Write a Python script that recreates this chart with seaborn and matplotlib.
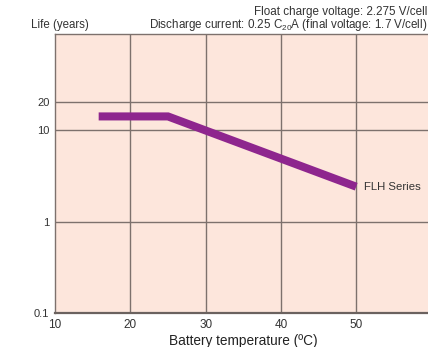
import matplotlib
matplotlib.use("Agg")
import matplotlib.pyplot as plt
import seaborn as sns
import pandas as pd

# Data
temps = [15.8, 25, 50]
life_years = [14, 14, 2.4]
series_name = "FLH Series"
x_ticks = [10, 20, 30, 40, 50]
y_ticks = [0.1, 1, 10, 20]
y_tick_labels = ["0.1", "1", "10", "20"]

sns.set_theme(style="white")
plt.rcParams["font.family"] = ["Liberation Sans", "DejaVu Sans"]

df = pd.DataFrame({"temp": temps, "life": life_years})

fig = plt.figure(figsize=(4.28, 3.47), dpi=100)
ax = fig.add_axes([55 / 428, 1 - 313.3 / 347, 376.5 / 428, (313.3 - 34.3) / 347])
ax.set_facecolor("#fde6dc")

sns.lineplot(data=df, x="temp", y="life", ax=ax, color="#8e268e", linewidth=5.8,
             solid_capstyle="butt", solid_joinstyle="miter")

ax.set_yscale("log")
ax.set_xlim(10, 60)
ax.set_ylim(0.1, 110)
ax.set_xticks(x_ticks)
ax.set_xticklabels([str(t) for t in x_ticks], fontsize=8.5, color="#333333")
ax.set_yticks(y_ticks)
ax.set_yticklabels(y_tick_labels, fontsize=8, color="#333333")
ax.yaxis.set_minor_locator(matplotlib.ticker.NullLocator())
ax.tick_params(axis="both", length=0, pad=4)
ax.tick_params(axis="x", pad=4)
for lbl in ax.get_xticklabels():
    lbl.set_x(lbl.get_position()[0])

grid_color = "#7d716d"
for xv in x_ticks[1:]:
    ax.axvline(xv, color=grid_color, linewidth=1.0, zorder=0.5)
for yv in [1, 10, 20]:
    ax.axhline(yv, color=grid_color, linewidth=1.0, zorder=0.5)

for s in ["left", "top"]:
    ax.spines[s].set_color(grid_color)
    ax.spines[s].set_linewidth(1.0)
ax.spines["bottom"].set_color("#6b625f")
ax.spines["bottom"].set_linewidth(1.6)
ax.spines["right"].set_visible(False)

ax.set_xlabel("Battery temperature (ºC)", fontsize=9.8, color="#222222", labelpad=2)
ax.set_ylabel("")

ax.text(51, 2.4, series_name, fontsize=8.2, color="#333333", va="center", ha="left")

fig.text(89 / 428, 1 - 25 / 347, "Life (years)", fontsize=8.3, color="#333333",
         ha="right", va="center")
fig.text(427 / 428, 1 - 12 / 347, "Float charge voltage: 2.275 V/cell", fontsize=8.4,
         color="#333333", ha="right", va="center")
fig.text(427 / 428, 1 - 25 / 347,
         r"Discharge current: 0.25 C$_{\mathregular{20}}$A (final voltage: 1.7 V/cell)",
         fontsize=8.4, color="#333333", ha="right", va="center")

fig.savefig("out.png", dpi=100)
